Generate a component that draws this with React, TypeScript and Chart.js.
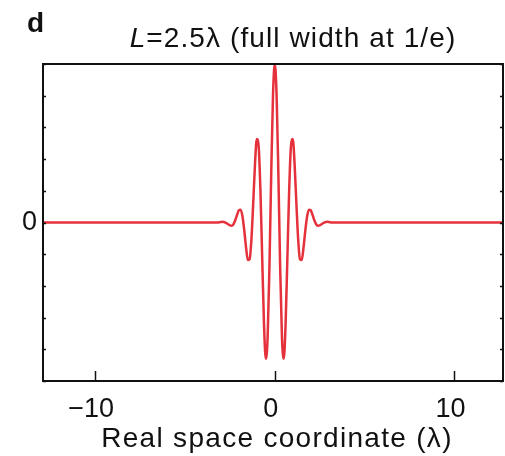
import React, { useEffect, useRef } from "react";
import { Chart, registerables } from "chart.js";

Chart.register(...registerables);

// Wave packet samples (x in λ, amplitude normalised)
const xCoords = [
  -12.9, -3.2,
  -3.0, -2.9, -2.8, -2.7, -2.6, -2.5, -2.4, -2.3, -2.2, -2.1,
  -2.0, -1.9, -1.8, -1.7, -1.6, -1.5, -1.4, -1.3, -1.2, -1.1,
  -1.0, -0.9, -0.8, -0.7, -0.6, -0.5, -0.4, -0.3, -0.2, -0.1,
  0,
  0.1, 0.2, 0.3, 0.4, 0.5, 0.6, 0.7, 0.8, 0.9, 1.0,
  1.1, 1.2, 1.3, 1.4, 1.5, 1.6, 1.7, 1.8, 1.9, 2.0,
  2.1, 2.2, 2.3, 2.4, 2.5, 2.6, 2.7, 2.8, 2.9, 3.0,
  3.2, 12.7,
];
const amplitude = [
  0, 0,
  0.003, 0.004, 0.002, -0.003, -0.011, -0.018, -0.02, -0.011, 0.014, 0.048,
  0.077, 0.08, 0.039, -0.049, -0.157, -0.237, -0.231, -0.105, 0.123, 0.373,
  0.527, 0.482, 0.205, -0.226, -0.643, -0.86, -0.73, -0.292, 0.301, 0.804,
  1.0,
  0.804, 0.301, -0.292, -0.73, -0.86, -0.643, -0.226, 0.205, 0.482, 0.527,
  0.373, 0.123, -0.105, -0.231, -0.237, -0.157, -0.049, 0.039, 0.08, 0.077,
  0.048, 0.014, -0.011, -0.02, -0.018, -0.011, -0.003, 0.002, 0.004, 0.003,
  0, 0,
];
const xTickValues = [-10, 0, 10];
const yLabelValues = [0];
const yMinorTicks = [-1, -0.8, -0.6, -0.4, -0.2, 0, 0.2, 0.4, 0.6, 0.8, 1];
const xMin = -12.9;
const xMax = 12.7;
const yMin = -1;
const yMax = 1;

const panelLabel = "d";
const titleItalic = "L";
const titleRest = "=2.5λ (full width at 1/e)";
const xAxisTitle = "Real space coordinate (λ)";

const FONT = "'Liberation Sans', Arial, Helvetica, sans-serif";

const framePlugin = {
  id: "frame",
  afterDatasetsDraw(chart: any) {
    const { ctx, chartArea } = chart;
    const xs = chart.scales.x;
    const ys = chart.scales.y;
    ctx.save();
    ctx.strokeStyle = "#111";
    ctx.lineWidth = 2;
    ctx.strokeRect(chartArea.left, chartArea.top, chartArea.right - chartArea.left, chartArea.bottom - chartArea.top);
    ctx.lineWidth = 1.5;
    ctx.beginPath();
    for (const v of xTickValues) {
      const px = Math.round(xs.getPixelForValue(v)) + 0.5;
      ctx.moveTo(px, chartArea.bottom);
      ctx.lineTo(px, chartArea.bottom - 10);
    }
    for (const v of yMinorTicks) {
      const py = Math.round(ys.getPixelForValue(v)) + 0.5;
      ctx.moveTo(chartArea.left, py);
      ctx.lineTo(chartArea.left + 3, py);
      ctx.moveTo(chartArea.right, py);
      ctx.lineTo(chartArea.right - 3, py);
    }
    ctx.stroke();
    ctx.restore();
  },
  afterDraw(chart: any) {
    const { ctx } = chart;
    ctx.save();
    ctx.fillStyle = "#111";
    ctx.textBaseline = "alphabetic";
    ctx.textAlign = "left";
    ctx.font = `bold 28px ${FONT}`;
    ctx.fillText(panelLabel, 27, 32);

    // Title with italic L
    ctx.letterSpacing = "1.1px";
    const italicFont = `italic 28px ${FONT}`;
    const regFont = `28px ${FONT}`;
    ctx.font = italicFont;
    const w1 = ctx.measureText(titleItalic).width;
    ctx.font = regFont;
    const w2 = ctx.measureText(titleRest).width;
    const cx = 293;
    const start = cx - (w1 + w2) / 2;
    ctx.font = italicFont;
    ctx.fillText(titleItalic, start, 47);
    ctx.font = regFont;
    ctx.fillText(titleRest, start + w1, 47);

    // x axis title
    ctx.letterSpacing = "1.3px";
    ctx.font = `28px ${FONT}`;
    const w3 = ctx.measureText(xAxisTitle).width;
    ctx.fillText(xAxisTitle, 277 - w3 / 2, 447);
    ctx.letterSpacing = "0px";
    ctx.restore();
  },
};

export default function App() {
  const ref = useRef<HTMLCanvasElement | null>(null);
  useEffect(() => {
    if (!ref.current) return;
    const points = xCoords.map((x, i) => ({ x, y: amplitude[i] }));
    const chart = new Chart(ref.current, {
      type: "line",
      data: {
        datasets: [
          {
            data: points,
            borderColor: "#e5313b",
            borderWidth: 2.5,
            pointRadius: 0,
            cubicInterpolationMode: "monotone",
            fill: false,
          },
        ],
      },
      options: {
        animation: false,
        responsive: false,
        maintainAspectRatio: false,
        layout: { padding: { top: 64, right: 2, left: 0, bottom: 0 } },
        plugins: {
          legend: { display: false },
          tooltip: { enabled: false },
          title: { display: false },
        },
        scales: {
          x: {
            type: "linear",
            min: xMin,
            max: xMax,
            afterBuildTicks: (s: any) => {
              s.ticks = xTickValues.map((v) => ({ value: v }));
            },
            afterFit: (s: any) => {
              s.height = 75;
            },
            grid: { display: false, drawTicks: false },
            border: { display: false },
            ticks: {
              padding: 12,
              labelOffset: -4,
              color: "#111",
              font: { family: FONT, size: 27 },
              maxRotation: 0,
              callback: (v: any) => (v < 0 ? "\u2212" + Math.abs(v) : String(v)),
            },
            title: { display: false },
          },
          y: {
            type: "linear",
            min: yMin,
            max: yMax,
            afterBuildTicks: (s: any) => {
              s.ticks = yLabelValues.map((v) => ({ value: v }));
            },
            afterFit: (s: any) => {
              s.width = 43;
            },
            grid: { display: false, drawTicks: false },
            border: { display: false },
            ticks: {
              padding: 6,
              color: "#111",
              font: { family: FONT, size: 27 },
              callback: (v: any) => String(v),
            },
          },
        },
      },
      plugins: [framePlugin],
    } as any);
    return () => chart.destroy();
  }, []);
  return (
    <div style={{ position: "absolute", left: 0, top: 0, width: 505, height: 456, background: "#fff" }}>
      <canvas ref={ref} width={505} height={456} style={{ width: 505, height: 456, display: "block" }} />
    </div>
  );
}
